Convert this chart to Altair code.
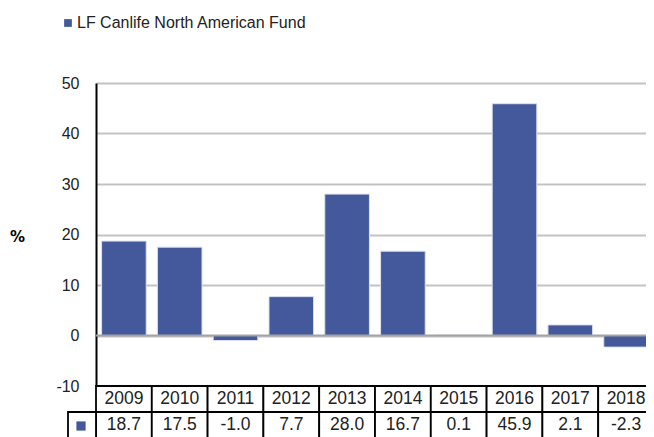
import altair as alt
import pandas as pd

years = ["2009", "2010", "2011", "2012", "2013", "2014", "2015", "2016", "2017", "2018"]
values = [18.7, 17.5, -1.0, 7.7, 28.0, 16.7, 0.1, 45.9, 2.1, -2.3]
series_name = "LF Canlife North American Fund"
y_ticks = [-10, 0, 10, 20, 30, 40, 50]

BLUE = "#44599c"
TABLE_FONT = "Liberation Sans"

df = pd.DataFrame({
    "year": years,
    "value": values,
    "label": [f"{v:.1f}" for v in values],
    "series": [series_name] * len(years),
})

W, H = 558, 303

x_enc = alt.X("year:N", sort=years,
              scale=alt.Scale(paddingInner=0.2, paddingOuter=0.1),
              axis=None)

base = alt.Chart(df)

bars = base.mark_bar(stroke="#dde1ee", strokeWidth=1).encode(
    x=x_enc,
    y=alt.Y("value:Q",
            scale=alt.Scale(domain=[-10, 50], nice=False, zero=False),
            axis=alt.Axis(values=y_ticks, grid=True, gridColor="#c3c3c3", gridWidth=2,
                          ticks=False, domain=True, domainColor="#000000", domainWidth=2,
                          labelFont="Liberation Sans", labelFontSize=16, labelColor="#222222",
                          labelPadding=17, labelExpr="datum.value + ''",
                          title="%", titleAngle=0, titleX=-79, titleY=153,
                          titleFont="DejaVu Sans", titleFontSize=15, titleFontWeight="bold",
                          titleColor="#000000", titleAlign="center", titleBaseline="middle")),
    color=alt.Color("series:N", scale=alt.Scale(range=[BLUE]),
                    legend=alt.Legend(orient="none", legendX=-36, legendY=-68, title=None,
                                      symbolType="square", symbolSize=60,
                                      symbolStrokeWidth=0, symbolFillColor=BLUE,
                                      labelFont="Liberation Sans", labelFontSize=16,
                                      labelColor="#222222", labelOffset=1, labelLimit=0)),
)

zero_line = alt.Chart(pd.DataFrame({"z": [0]})).mark_rule(color="#a3a3a3", strokeWidth=2).encode(
    y=alt.Y("z:Q")
)

year_cells = base.mark_rect(fill="white", stroke="black", strokeWidth=1.8,
                            width=alt.RelativeBandSize(1.25)).encode(
    x=x_enc, y=alt.value(303), y2=alt.value(329)
)
value_cells = base.mark_rect(fill="white", stroke="black", strokeWidth=1.8,
                             width=alt.RelativeBandSize(1.25)).encode(
    x=x_enc, y=alt.value(329), y2=alt.value(365)
)
year_text = base.mark_text(font=TABLE_FONT, fontSize=17.5, color="#222222",
                           baseline="middle").encode(
    x=x_enc, y=alt.value(316), text="year:N"
)
value_text = base.mark_text(font=TABLE_FONT, fontSize=17.5, color="#222222",
                            baseline="middle").encode(
    x=x_enc, y=alt.value(342), text="label:N"
)

key_df = pd.DataFrame({"series": [series_name]})
key_cell = alt.Chart(key_df).mark_rect(fill="white", stroke="black", strokeWidth=1.8).encode(
    x=alt.value(-28), x2=alt.value(0), y=alt.value(329), y2=alt.value(365)
)
key_square = alt.Chart(key_df).mark_square(size=85, color=BLUE, opacity=1).encode(
    x=alt.value(-15), y=alt.value(343)
)

chart = alt.layer(
    bars, zero_line, year_cells, value_cells, year_text, value_text, key_cell, key_square
).properties(
    width=W, height=H,
    autosize=alt.AutoSizeParams(type="none"),
    padding={"left": 88, "top": 75, "right": -8, "bottom": 51},
    background="white",
).configure_view(stroke=None)

chart.save("out.html", embed_options={"renderer": "svg", "actions": False})
